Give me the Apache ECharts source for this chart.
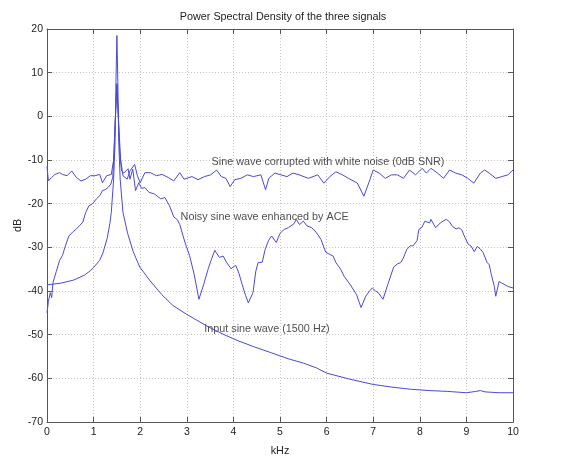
<!DOCTYPE html>
<html><head><meta charset="utf-8">
<script src="https://cdn.jsdelivr.net/npm/echarts@6/dist/echarts.min.js"></script>
<style>html,body{margin:0;padding:0;background:#fff}#c{width:566px;height:462px}</style>
</head><body><div id="c"></div>
<script>
// ---- Data ----
const chartTitle = 'Power Spectral Density of the three signals';
const xTickMin = 0, xTickMax = 10, xTickStep = 1;
const yTickMin = -70, yTickMax = 20, yTickStep = 10;

// Input sine wave (1500 Hz)
const inputFreq = [0,0.3,0.57,0.8,0.9,1.0,1.13,1.2,1.29,1.35,1.38,1.43,1.46,1.48,1.5,1.52,1.54,1.57,1.63,1.73,1.85,1.99,2.2,2.46,2.7,2.99,3.2,3.46,3.8,4.1,4.45,4.8,5.2,5.5,5.78,6.0,6.5,7.0,7.4,7.8,8.2,8.6,9.0,9.2,9.3,9.4,9.7,10];
const inputDb   = [-38.6,-38.2,-37.5,-36.4,-35.6,-34.6,-33.0,-31.3,-28.0,-24.5,-22.0,-14.4,-6,8,18.5,8,-6,-14.4,-22.0,-26.8,-31,-34.5,-37.5,-40.8,-43.3,-45.3,-46.6,-48.2,-50,-51.4,-52.8,-54.1,-55.6,-56.5,-57.6,-58.8,-60.2,-61.4,-62.0,-62.5,-62.8,-63.0,-63.3,-63.0,-62.8,-63.1,-63.3,-63.3];

// Sine wave corrupted with white noise (0dB SNR)
const noisyFreq = [0,0.03,0.1,0.17,0.27,0.33,0.43,0.53,0.63,0.73,0.83,0.93,1.03,1.13,1.19,1.28,1.38,1.43,1.46,1.5,1.54,1.58,1.63,1.72,1.78,1.88,1.94,2.0,2.1,2.22,2.35,2.47,2.6,2.72,2.85,2.94,3.11,3.24,3.38,3.51,3.64,3.74,3.84,3.93,4.03,4.16,4.3,4.43,4.59,4.69,4.76,4.89,5.02,5.15,5.28,5.41,5.61,5.81,5.94,6.07,6.2,6.34,6.47,6.66,6.8,6.93,7.0,7.13,7.26,7.39,7.52,7.65,7.78,7.91,8.05,8.14,8.24,8.38,8.51,8.64,8.77,8.9,9.03,9.16,9.3,9.39,9.49,9.63,9.76,9.89,10];
const noisyDb   = [-11.5,-14.8,-14.0,-13.3,-12.9,-13.3,-13.6,-12.5,-14.0,-14.8,-14.4,-13.6,-13.6,-13.3,-15.2,-13.6,-13.3,-10,-2,7.5,-2,-10,-13.6,-14.4,-12.5,-11.0,-13.6,-15.2,-12.9,-12.9,-13.6,-13.3,-14.0,-14.8,-12.9,-14.4,-13.8,-14.5,-13.8,-13.4,-12.3,-13.8,-14.2,-16.1,-14.5,-14.2,-13.4,-13.8,-13.4,-16.8,-14.2,-13.0,-13.4,-13.8,-13.0,-13.4,-14.2,-13.4,-15.3,-13.8,-12.7,-13.4,-14.2,-15.3,-18.3,-14.5,-12.3,-13.0,-14.2,-13.4,-13.4,-14.2,-12.3,-13.4,-11.9,-13.0,-11.9,-13.0,-14.2,-12.3,-13.0,-13.4,-14.2,-15.3,-13.0,-12.3,-13.0,-14.2,-13.8,-13.4,-12.3];

// Noisy sine wave enhanced by ACE
const aceFreq = [0,0.03,0.07,0.1,0.13,0.2,0.27,0.33,0.4,0.47,0.55,0.63,0.7,0.77,0.83,0.9,0.98,1.06,1.13,1.19,1.25,1.31,1.37,1.41,1.44,1.47,1.5,1.53,1.56,1.6,1.65,1.69,1.74,1.78,1.84,1.9,1.97,2.03,2.1,2.19,2.31,2.44,2.53,2.63,2.72,2.8,2.85,2.92,2.98,3.06,3.16,3.26,3.36,3.46,3.52,3.6,3.7,3.78,3.85,3.95,4.05,4.12,4.19,4.26,4.32,4.42,4.48,4.53,4.62,4.68,4.75,4.82,4.92,5.0,5.09,5.18,5.22,5.3,5.35,5.42,5.5,5.58,5.68,5.78,5.88,5.98,6.05,6.14,6.2,6.3,6.38,6.51,6.64,6.74,6.84,6.92,6.98,7.05,7.11,7.21,7.31,7.44,7.52,7.59,7.64,7.72,7.8,7.85,7.94,7.98,8.04,8.11,8.21,8.24,8.34,8.44,8.5,8.57,8.64,8.7,8.78,8.84,8.9,8.97,9.04,9.1,9.17,9.23,9.3,9.36,9.44,9.49,9.53,9.6,9.63,9.7,9.76,9.83,9.9,10];
const aceDb   = [-45,-42.4,-40.4,-41.5,-38,-35.5,-33,-31.9,-29.5,-27.4,-26.5,-25.8,-25,-24.2,-22,-20.5,-20,-18.9,-18.2,-17.0,-16.8,-16.3,-15.5,-14,-8,0,7.2,0,-8,-12.5,-13.0,-13.3,-12.0,-14.4,-12.1,-17.0,-15.2,-16.5,-16.3,-17.4,-17.8,-18.9,-18.6,-20.5,-23.0,-23.7,-24.8,-27.4,-29.5,-31.9,-36.3,-41.9,-38.6,-34.9,-33,-30.7,-32.3,-32,-33.4,-34.9,-34.1,-36,-38.6,-41,-42.7,-40.4,-35.5,-33.5,-33.4,-30.5,-28.5,-27.4,-28.9,-26.8,-25.9,-25.5,-25.2,-24.6,-23.6,-24.8,-24.0,-25.1,-25.5,-26.6,-28.2,-31.1,-31.5,-32.0,-33.5,-35,-36.7,-38.6,-40.8,-43.8,-41.2,-40,-39.3,-40,-40.4,-41.9,-38.6,-34.5,-33.8,-33.5,-32.6,-30.5,-29.6,-29.7,-28.5,-25.9,-25.5,-24.0,-24.4,-23.6,-25.5,-24.4,-24.0,-23.6,-24.2,-25.2,-25.8,-25.5,-26,-27.8,-29.3,-29.7,-31.0,-29.8,-30.4,-31.2,-33.4,-34,-36.0,-39,-41.2,-37.8,-38.2,-38.6,-39.0,-39.3];

// Annotation texts and their anchor points (centre) in data coordinates
const noteTexts = ['Sine wave corrupted with white noise (0dB SNR)', 'Noisy sine wave enhanced by ACE', 'Input sine wave (1500 Hz)'];
const noteX = [6.03, 4.67, 4.72];
const noteY = [-10.5, -23.0, -48.7];

// ---- Chart ----
const zip = (a, b) => a.map((v, i) => [v, b[i]]);
const lineColor = '#4a4ad6';
const axisColor = '#555';
const textColor = '#222';
const fontFamily = 'Liberation Sans, Arial, sans-serif';
const tickFont = 10.5;
const textFont = 10.8;

function axisCommon(showLabel, margin) {
  return {
    axisLine: {show: true, onZero: false, lineStyle: {color: axisColor, width: 1}},
    axisTick: {show: true, inside: true, length: 5, lineStyle: {color: axisColor}},
    axisLabel: {show: showLabel, color: textColor, fontSize: tickFont, fontFamily: fontFamily, margin: margin || 5},
  };
}

const chart = echarts.init(document.getElementById('c'), null, {renderer: 'canvas'});
const lineSeries = (name, data) => ({
  name, type: 'line', data, showSymbol: false, symbol: 'none',
  lineStyle: {color: lineColor, width: 1}, animation: false, z: 3
});

const notes = noteTexts.map((t, i) => ({
  name: 'note' + i, type: 'scatter', data: [[noteX[i], noteY[i]]],
  symbolSize: 0, silent: true, animation: false,
  label: {show: true, position: 'inside', formatter: () => t, color: textColor,
          fontSize: textFont, fontFamily: fontFamily}
}));

const gridLine = {show: true, lineStyle: {type: [1, 2], color: '#c4c4c4'}};

chart.setOption({
  animation: false,
  backgroundColor: '#fff',
  title: {text: chartTitle, left: 'center', top: 7,
          textStyle: {fontSize: textFont, fontWeight: 'normal', color: textColor, fontFamily: fontFamily}},
  grid: {left: 47, right: 53, top: 29, bottom: 35},
  xAxis: [
    Object.assign({type: 'value', min: xTickMin, max: xTickMax, interval: xTickStep, position: 'bottom',
      name: 'kHz', nameLocation: 'middle', nameGap: 24, nameMoveOverlap: false,
      nameTextStyle: {color: textColor, fontSize: textFont, fontFamily: fontFamily},
      splitLine: gridLine}, axisCommon(true, 5)),
    Object.assign({type: 'value', min: xTickMin, max: xTickMax, interval: xTickStep, position: 'top',
      splitLine: {show: false}}, axisCommon(false))
  ],
  yAxis: [
    Object.assign({type: 'value', min: yTickMin, max: yTickMax, interval: yTickStep, position: 'left',
      name: 'dB', nameLocation: 'middle', nameGap: 23, nameRotate: 90, nameMoveOverlap: false,
      nameTextStyle: {color: textColor, fontSize: textFont, fontFamily: fontFamily},
      splitLine: gridLine}, axisCommon(true, 4)),
    Object.assign({type: 'value', min: yTickMin, max: yTickMax, interval: yTickStep, position: 'right',
      splitLine: {show: false}}, axisCommon(false))
  ],
  series: [
    lineSeries('Input sine wave (1500 Hz)', zip(inputFreq, inputDb)),
    lineSeries('Sine wave corrupted with white noise (0dB SNR)', zip(noisyFreq, noisyDb)),
    lineSeries('Noisy sine wave enhanced by ACE', zip(aceFreq, aceDb)),
    ...notes
  ]
});
</script></body></html>
